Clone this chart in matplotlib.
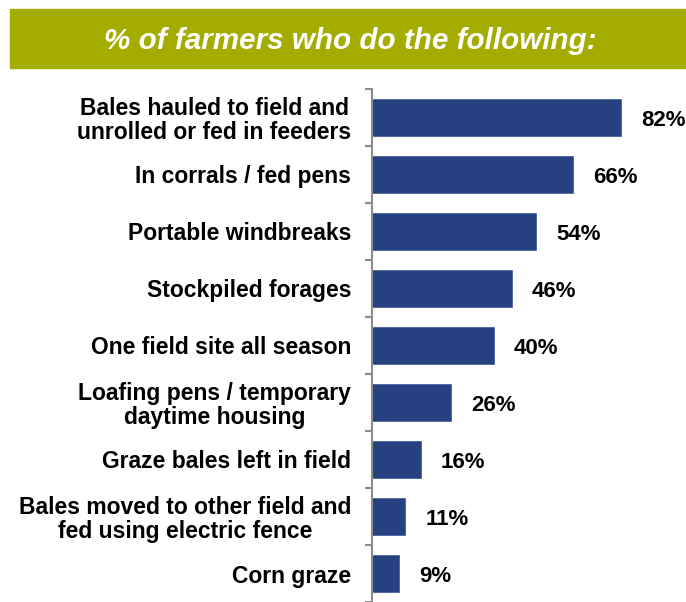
import matplotlib.pyplot as plt
from matplotlib.patches import Rectangle
import numpy as np

plt.rcParams['font.family'] = ['Liberation Sans', 'DejaVu Sans']

# data
categories = [
    'Bales hauled to field and\nunrolled or fed in feeders',
    'In corrals / fed pens',
    'Portable windbreaks',
    'Stockpiled forages',
    'One field site all season',
    'Loafing pens / temporary\ndaytime housing',
    'Graze bales left in field',
    'Bales moved to other field and\nfed using electric fence',
    'Corn graze',
]
percents = [82, 66, 54, 46, 40, 26, 16, 11, 9]
title = '% of farmers who do the following:'

bar_color = '#264180'
banner_color = '#A4AC00'
axis_color = '#8C8C8C'

W, H = 686, 602
fig = plt.figure(figsize=(W / 100, H / 100), dpi=100)

# title banner
fig.patches.append(Rectangle((10 / W, 1 - 68 / H), 1 - 10 / W, 59 / H,
                             transform=fig.transFigure, color=banner_color, zorder=0))
fig.text(350 / W, 1 - 41 / H, title, color='white', fontsize=21.3,
         fontweight='bold', fontstyle='italic', ha='center', va='center')

# bar axes
ax = fig.add_axes([372 / W, 0, 304 / W, (H - 89) / H])
y = np.arange(len(categories))
ax.barh(y, percents, height=0.64, color=bar_color, edgecolor='#4a62a0', linewidth=0.6)
ax.set_xlim(0, 100)
ax.set_ylim(8.34, -0.5)

for yi, p in zip(y, percents):
    ax.annotate(f'{p}%', (p, yi), xytext=(14.5, -2), textcoords='offset points',
                ha='left', va='center', fontsize=16, fontweight='bold')

ax.set_yticks(y)
ax.set_yticklabels(categories, fontsize=16.5, fontweight='bold', linespacing=1.08)
ax.set_yticks(np.arange(-0.5, len(categories), 1), minor=True)
ax.tick_params(axis='y', which='major', length=0, pad=15)
ax.tick_params(axis='y', which='minor', length=5, width=1.5, color=axis_color)
ax.set_xticks([])
for side in ['top', 'right', 'bottom']:
    ax.spines[side].set_visible(False)
ax.spines['left'].set_color(axis_color)
ax.spines['left'].set_linewidth(1.5)
for lbl in ax.get_yticklabels():
    lbl.set_horizontalalignment('right')
    lbl.set_multialignment('center')

fig.savefig('out.png', dpi=100)
